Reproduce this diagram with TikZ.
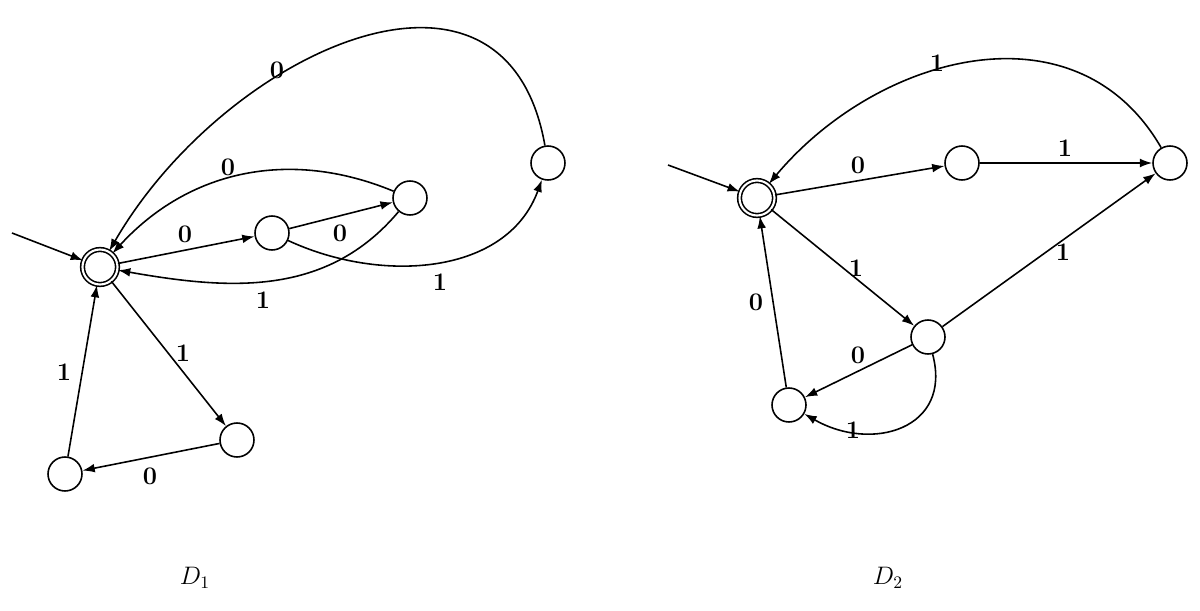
\documentclass[tikz,border=0pt]{standalone}
\usetikzlibrary{arrows.meta}
\begin{document}
\begin{tikzpicture}[
    x=0.02cm, y=-0.02cm,
    state/.style={circle, draw=black, line width=0.9pt, minimum size=0.68cm, inner sep=0pt},
    accept/.style={state, double, double distance=1.2pt, minimum size=0.7cm},
    arrow/.style={-{Latex[length=7pt,width=5pt]}, line width=0.9pt},
    lbl/.style={font=\bfseries\Large, inner sep=1pt}
]
\useasboundingbox (0,0) rectangle (1200,611);

%% Automaton D1
\node[accept] (p0) at (100,267) {};
\node[state] (p1) at (272,233) {};
\node[state] (p2) at (410,198) {};
\node[state] (p3) at (548,163) {};
\node[state] (p4) at (237,440) {};
\node[state] (p5) at (65,474) {};
\coordinate (p_in) at (12,233);

\draw[arrow] (p_in) -- (p0);
\draw[arrow] (p0) -- (p1);
\draw[arrow] (p1) -- (p2);
\draw[arrow] (p2) to[bend right=35] (p0);
\draw[arrow] (p2) to[out=-130, in=-10] (p0);
\draw[arrow] (p1) to[out=-25, in=-110] (p3);
\draw[arrow] (p3) to[out=100, in=60, looseness=1.3] (p0);
\draw[arrow] (p0) -- (p4);
\draw[arrow] (p4) -- (p5);
\draw[arrow] (p5) -- (p0);

\node[lbl] at (185,234) {0};
\node[lbl] at (340,233) {0};
\node[lbl] at (228,167) {0};
\node[lbl] at (263,300) {1};
\node[lbl] at (440,282) {1};
\node[lbl] at (277,70) {0};
\node[lbl] at (183,353) {1};
\node[lbl] at (150,476) {0};
\node[lbl] at (64,372) {1};

%% Automaton D2
\node[accept] (q0) at (757,198) {};
\node[state] (q1) at (962,163) {};
\node[state] (q2) at (1170,163) {};
\node[state] (q3) at (928,337) {};
\node[state] (q4) at (789,405) {};
\coordinate (q_in) at (668,165);

\draw[arrow] (q_in) -- (q0);
\draw[arrow] (q0) -- (q1);
\draw[arrow] (q1) -- (q2);
\draw[arrow] (q2) to[out=120, in=50, looseness=1.1] (q0);
\draw[arrow] (q0) -- (q3);
\draw[arrow] (q3) -- (q2);
\draw[arrow] (q3) -- (q4);
\draw[arrow] (q3) to[out=-75, in=-30, looseness=1.4] (q4);
\draw[arrow] (q4) -- (q0);

\node[lbl] at (858,165) {0};
\node[lbl] at (1065,148) {1};
\node[lbl] at (937,63) {1};
\node[lbl] at (856,268) {1};
\node[lbl] at (1063,252) {1};
\node[lbl] at (858,355) {0};
\node[lbl] at (853,430) {1};
\node[lbl] at (756,302) {0};

%% Captions
\node[font=\Large] (cap1) at (195,578) {$D_1$};
\node[font=\Large] (cap2) at (888,578) {$D_2$};
\end{tikzpicture}
\end{document}
